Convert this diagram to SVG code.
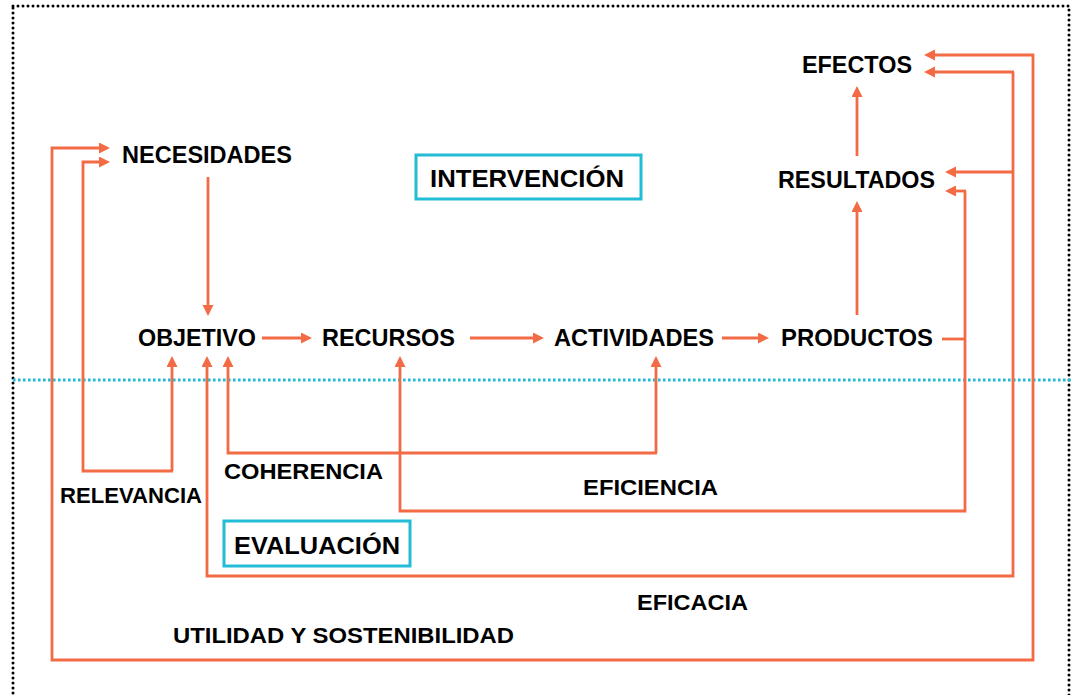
<svg xmlns="http://www.w3.org/2000/svg" width="1071" height="695" viewBox="0 0 1071 695">
<defs>
<marker id="ah" markerUnits="userSpaceOnUse" markerWidth="12" markerHeight="12" refX="7" refY="5.5" orient="auto">
<path d="M0,0 L11,5.5 L0,11 Z" fill="#F26B45"/>
</marker>
<style>
.c{fill:none;stroke:#F26B45;stroke-width:2.8;stroke-linejoin:miter}
.a{marker-end:url(#ah)}
.n{font-family:"Liberation Sans",Arial,Helvetica,sans-serif;font-weight:bold;font-size:24px;fill:#000}
.l{font-family:"Liberation Sans",Arial,Helvetica,sans-serif;font-weight:bold;font-size:22px;fill:#000}
.box{fill:#fff;stroke:#22BCD6;stroke-width:3}
</style>
</defs>
<rect width="1071" height="695" fill="#fff"/>
<rect x="13" y="6" width="1056" height="720" fill="none" stroke="#000" stroke-width="3" stroke-dasharray="0 5" stroke-linecap="round"/>
<line x1="13" y1="380" x2="1071" y2="380" stroke="#22BCD6" stroke-width="2.8" stroke-dasharray="2.6 2.4"/>
<g id="connectors">
<path class="c a" d="M208,177 V312"/>
<path class="c a" d="M262,338 H308"/>
<path class="c a" d="M470,338 H540"/>
<path class="c a" d="M722,338 H765"/>
<path class="c a" d="M857,315 V205"/>
<path class="c a" d="M857,156 V90"/>
<path class="c" d="M942,339 H965"/>
<path class="c a" d="M965,191 V511 H400 V360"/>
<path class="c a" d="M966,191 H949"/>
<path class="c a" d="M1013,72 V576 H207 V360"/>
<path class="c a" d="M1014,72 H928"/>
<path class="c a" d="M1013,172 H949"/>
<path class="c a" d="M1034,55 H928"/>
<path class="c a" d="M1033,54 V660 H52 V148 H106"/>
<path class="c a" d="M172,471 V360"/>
<path class="c a" d="M173,471 H83 V162 H106"/>
<path class="c a" d="M656,453 V360"/>
<path class="c a" d="M657,453 H228 V360"/>
</g>
<g id="necesidades"><text class="n" x="122" y="163" textLength="170" lengthAdjust="spacingAndGlyphs">NECESIDADES</text></g>
<g id="efectos"><text class="n" x="802" y="73" textLength="110" lengthAdjust="spacingAndGlyphs">EFECTOS</text></g>
<g id="resultados"><text class="n" x="778" y="188" textLength="157" lengthAdjust="spacingAndGlyphs">RESULTADOS</text></g>
<g id="objetivo"><text class="n" x="138" y="346" textLength="118" lengthAdjust="spacingAndGlyphs">OBJETIVO</text></g>
<g id="recursos"><text class="n" x="322" y="346" textLength="133" lengthAdjust="spacingAndGlyphs">RECURSOS</text></g>
<g id="actividades"><text class="n" x="554" y="346" textLength="160" lengthAdjust="spacingAndGlyphs">ACTIVIDADES</text></g>
<g id="productos"><text class="n" x="781" y="346" textLength="152" lengthAdjust="spacingAndGlyphs">PRODUCTOS</text></g>
<g id="intervencion">
<rect class="box" x="416" y="155" width="225" height="44"/>
<text class="n" x="430" y="187" textLength="194" lengthAdjust="spacingAndGlyphs">INTERVENCIÓN</text>
</g>
<g id="evaluacion">
<rect class="box" x="224" y="521" width="186" height="45"/>
<text class="n" x="234" y="554" textLength="166" lengthAdjust="spacingAndGlyphs">EVALUACIÓN</text>
</g>
<g id="labels">
<text class="l" x="60" y="503" textLength="142" lengthAdjust="spacingAndGlyphs">RELEVANCIA</text>
<text class="l" x="224" y="479" textLength="159" lengthAdjust="spacingAndGlyphs">COHERENCIA</text>
<text class="l" x="583" y="495" textLength="135" lengthAdjust="spacingAndGlyphs">EFICIENCIA</text>
<text class="l" x="637" y="610" textLength="111" lengthAdjust="spacingAndGlyphs">EFICACIA</text>
<text class="l" x="173" y="643" textLength="341" lengthAdjust="spacingAndGlyphs">UTILIDAD Y SOSTENIBILIDAD</text>
</g>
</svg>
